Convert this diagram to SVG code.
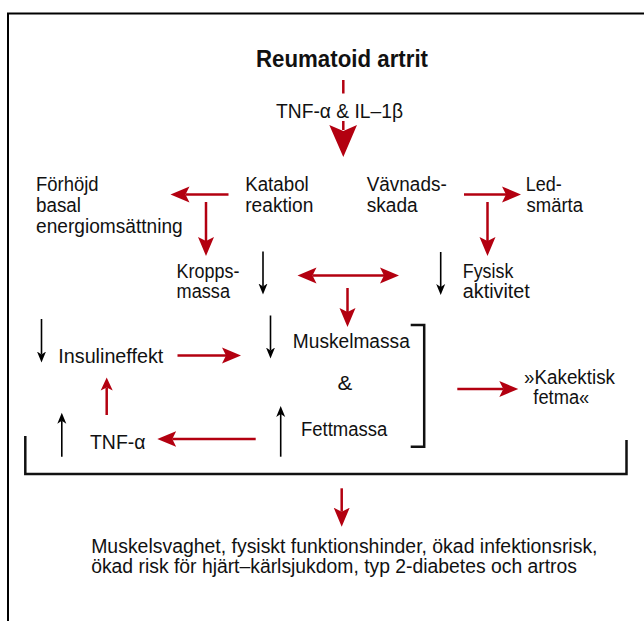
<svg xmlns="http://www.w3.org/2000/svg" width="644" height="621" viewBox="0 0 644 621">
<style>
  text { font-family: "Liberation Sans", Arial, sans-serif; font-size: 20px; fill: #111; }
  .title { font-weight: bold; font-size: 23px; }
  .red { stroke: #b30010; stroke-width: 2.5; fill: none; }
  .blk { stroke: #000; stroke-width: 1.6; fill: none; }
  .frame { stroke: #000; stroke-width: 2; fill: none; }
  .brk { stroke: #111; stroke-width: 2.5; fill: none; }
</style>
<defs>
  <marker id="ah" markerUnits="userSpaceOnUse" viewBox="0 -9 20 18" markerWidth="20" markerHeight="18" refX="4" refY="0" orient="auto-start-reverse">
    <path d="M0,-8 L19,0 L0,8 L4,0 Z" fill="#b30010"/>
  </marker>
  <marker id="ahs" markerUnits="userSpaceOnUse" viewBox="0 -7 14 14" markerWidth="14" markerHeight="14" refX="3" refY="0" orient="auto">
    <path d="M0,-6 L13,0 L0,6 L3,0 Z" fill="#b30010"/>
  </marker>
  <marker id="bh" markerUnits="userSpaceOnUse" viewBox="0 -5 12 10" markerWidth="12" markerHeight="10" refX="3" refY="0" orient="auto">
    <path d="M0,-4.5 L11,0 L0,4.5 L3,0 Z" fill="#000"/>
  </marker>
</defs>
<rect width="644" height="621" fill="#fff"/>
<path class="frame" d="M8,621 V13.5 H644"/>

<g id="n-title"><text class="title" x="256" y="66.5" textLength="172" lengthAdjust="spacingAndGlyphs">Reumatoid artrit</text></g>
<g id="n-cytokines"><text x="276" y="118" textLength="127" lengthAdjust="spacingAndGlyphs">TNF-α &amp; IL–1β</text></g>
<g id="n-forhojd">
  <text x="36" y="191" textLength="62.5" lengthAdjust="spacingAndGlyphs">Förhöjd</text>
  <text x="36" y="212" textLength="45" lengthAdjust="spacingAndGlyphs">basal</text>
  <text x="36" y="233" textLength="146.7" lengthAdjust="spacingAndGlyphs">energiomsättning</text>
</g>
<g id="n-katabol">
  <text x="245.2" y="191" textLength="63.6" lengthAdjust="spacingAndGlyphs">Katabol</text>
  <text x="245.2" y="212" textLength="68.2" lengthAdjust="spacingAndGlyphs">reaktion</text>
</g>
<g id="n-vavnad">
  <text x="366.7" y="191" textLength="80" lengthAdjust="spacingAndGlyphs">Vävnads-</text>
  <text x="366.7" y="212" textLength="51" lengthAdjust="spacingAndGlyphs">skada</text>
</g>
<g id="n-led">
  <text x="525.7" y="191" textLength="36" lengthAdjust="spacingAndGlyphs">Led-</text>
  <text x="526.5" y="212" textLength="56.5" lengthAdjust="spacingAndGlyphs">smärta</text>
</g>
<g id="n-kropp">
  <text x="176.6" y="278" textLength="62.8" lengthAdjust="spacingAndGlyphs">Kropps-</text>
  <text x="176.6" y="298" textLength="53.4" lengthAdjust="spacingAndGlyphs">massa</text>
</g>
<g id="n-fysisk">
  <text x="462.8" y="278" textLength="50.5" lengthAdjust="spacingAndGlyphs">Fysisk</text>
  <text x="462.8" y="298" textLength="67" lengthAdjust="spacingAndGlyphs">aktivitet</text>
</g>
<g id="n-insulin"><text x="58.3" y="362.7" textLength="105" lengthAdjust="spacingAndGlyphs">Insulineffekt</text></g>
<g id="n-muskel"><text x="292.8" y="348.3" textLength="117" lengthAdjust="spacingAndGlyphs">Muskelmassa</text></g>
<g id="n-amp"><text x="337.6" y="390" textLength="14.8" lengthAdjust="spacingAndGlyphs">&amp;</text></g>
<g id="n-fett"><text x="301" y="436" textLength="86.3" lengthAdjust="spacingAndGlyphs">Fettmassa</text></g>
<g id="n-kakektisk">
  <text x="524" y="384" textLength="91" lengthAdjust="spacingAndGlyphs">»Kakektisk</text>
  <text x="533.3" y="404.3" textLength="56" lengthAdjust="spacingAndGlyphs">fetma«</text>
</g>
<g id="n-tnf"><text x="90" y="449" textLength="55.5" lengthAdjust="spacingAndGlyphs">TNF-α</text></g>
<g id="n-outcome">
  <text x="91.2" y="552.7" textLength="506.3" lengthAdjust="spacingAndGlyphs">Muskelsvaghet, fysiskt funktionshinder, ökad infektionsrisk,</text>
  <text x="91.2" y="573.3" textLength="485.8" lengthAdjust="spacingAndGlyphs">ökad risk för hjärt–kärlsjukdom, typ 2-diabetes och artros</text>
</g>

<g id="connectors">
  <!-- top big arrow -->
  <line class="red" x1="343.3" y1="80" x2="343.3" y2="93.5"/>
  <line class="red" x1="343.3" y1="121" x2="343.3" y2="130"/>
  <polygon points="329.3,125 343.3,131 357,125 343.3,157" fill="#b30010"/>
  <!-- red arrows -->
  <line class="red" x1="228.5" y1="194.5" x2="185.5" y2="194.5" marker-end="url(#ah)"/>
  <line class="red" x1="206" y1="202" x2="206" y2="241" marker-end="url(#ah)"/>
  <line class="red" x1="464" y1="194.5" x2="506" y2="194.5" marker-end="url(#ah)"/>
  <line class="red" x1="487.5" y1="202" x2="487.5" y2="241" marker-end="url(#ah)"/>
  <line class="red" x1="312.5" y1="275.5" x2="384" y2="275.5" marker-start="url(#ah)" marker-end="url(#ah)"/>
  <line class="red" x1="347.5" y1="288" x2="347.5" y2="312" marker-end="url(#ah)"/>
  <line class="red" x1="177.5" y1="355.5" x2="226" y2="355.5" marker-end="url(#ah)"/>
  <line class="red" x1="106.7" y1="415" x2="106.7" y2="387.5" marker-end="url(#ahs)"/>
  <line class="red" x1="255.7" y1="439" x2="172.3" y2="439" marker-end="url(#ah)"/>
  <line class="red" x1="457.3" y1="389" x2="503.3" y2="389" marker-end="url(#ah)"/>
  <line class="red" x1="341.7" y1="488.3" x2="341.7" y2="511.7" marker-end="url(#ah)"/>
  <!-- black arrows -->
  <line class="blk" x1="263" y1="251.5" x2="263" y2="286.5" marker-end="url(#bh)"/>
  <line class="blk" x1="440.7" y1="252" x2="440.7" y2="287" marker-end="url(#bh)"/>
  <line class="blk" x1="41.5" y1="319" x2="41.5" y2="354.5" marker-end="url(#bh)"/>
  <line class="blk" x1="270.5" y1="315.5" x2="270.5" y2="350.5" marker-end="url(#bh)"/>
  <line class="blk" x1="61.8" y1="456.7" x2="61.8" y2="420.7" marker-end="url(#bh)"/>
  <line class="blk" x1="280.7" y1="456.7" x2="280.7" y2="414" marker-end="url(#bh)"/>
  <!-- brackets -->
  <path class="brk" d="M410.7,325 H424.2 V446.7 H410.7"/>
  <path class="brk" d="M25.3,436 V474 H626.5 V440"/>
</g>
</svg>
